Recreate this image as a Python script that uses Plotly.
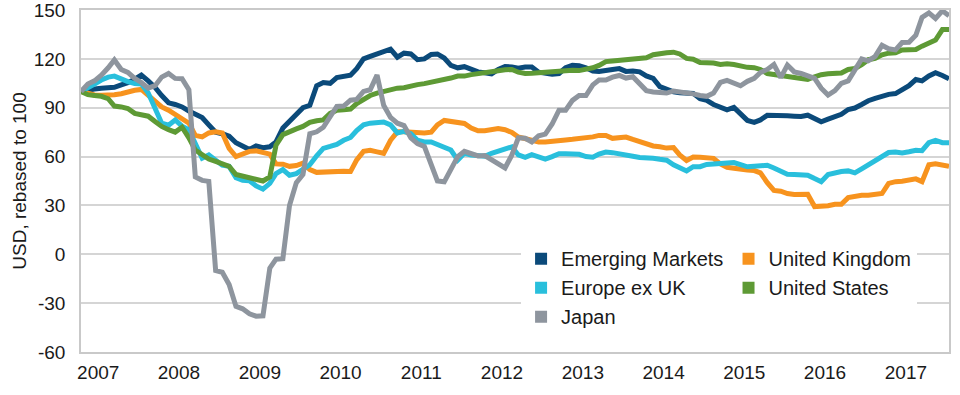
import pandas as pd
import plotly.graph_objects as go

# Monthly observations (rebased to 100 at start)
dates = pd.date_range("2006-10-01", periods=130, freq="MS") + pd.Timedelta(days=14)

years = [2007, 2008, 2009, 2010, 2011, 2012, 2013, 2014, 2015, 2016, 2017]
y_ticks = [-60, -30, 0, 30, 60, 90, 120, 150]
y_tick_text = ["-60", "-30", "0", "30", "60", "90", "120", "150"]

emerging_markets = [
    100, 101, 101.5, 102, 102.3, 102.5, 104, 105.3, 107.5, 110,
    106.5, 102.5, 97.5, 93, 92, 90.5, 88, 86, 84, 79.5,
    75, 74, 72.5, 68.5, 66.5, 64.3, 66.5, 65.5, 66, 69,
    77.5, 81.5, 86, 90, 91.5, 103.5, 105.5, 105, 108.5, 109.5,
    110, 114, 120, 121.5, 123, 124.5, 126, 121, 123.5, 123,
    119.5, 120, 122.7, 123, 120.5, 116, 114.5, 115.2, 113.5, 112,
    111.5, 110.8, 113.5, 115.3, 115, 114.2, 115, 115, 111.8, 111,
    110.5, 111, 114.5, 116, 115.8, 114.5, 112.5, 112.2, 112.5, 113.5,
    114, 112.3, 112.5, 112, 109.5, 108, 103, 101, 99.7, 99.2,
    98.8, 98.8, 95.5, 94.5, 92, 90.2, 88.7, 90.2, 86, 82.2,
    81, 82.5, 85.3, 85.4, 85.3, 85, 84.8, 84.6, 85.4, 83.5,
    81.4, 83, 84.5, 86, 88.9, 89.8, 92, 94.3, 95.7, 97,
    98.2, 98.7, 101, 103.5, 107.3, 106.5, 109.5, 111.5, 109.8, 107.8,
]

united_kingdom = [
    100, 98.5, 97.8, 97.7, 97.7, 98, 98.6, 100, 100.7, 101.2,
    97.7, 93.5, 90.5, 88.5, 86, 83.5, 80.5, 73, 72.1, 74.5,
    75.2, 74.5, 65, 60, 61.5, 63.2, 63.5, 62.3, 61.5, 55.5,
    55.3, 54, 54.5, 56, 52, 50.3, 50.6, 50.6, 50.7, 51,
    50.8, 58, 63.2, 63.8, 62.9, 62, 70, 75.2, 75.2, 75,
    74.4, 74.5, 75, 79.5, 82.2, 81.5, 80.3, 80.3, 77.5, 75.8,
    75.8, 76.5, 77.2, 76.5, 74.8, 72, 70.8, 69.8, 69, 69,
    69.2, 69.6, 70.2, 70.6, 71, 71.6, 72.1, 73, 73, 71.2,
    71.5, 72, 70.5, 69, 67.8, 66.5, 66, 65.2, 65.5, 61,
    57.6, 59.7, 59.6, 59.4, 58.9, 55.5, 53.4, 52.8, 52, 51.7,
    51.4, 50, 44, 39.2, 38.7, 37.3, 36.7, 37, 36.8, 29.3,
    29.5, 29.8, 30.7, 30.7, 34.8, 35.8, 36.2, 36.2, 37, 37.3,
    43.5, 44.6, 44.8, 45.2, 46.3, 44.6, 55, 55.6, 54.5, 54.1,
]

europe_ex_uk = [
    100, 102, 104.5, 107, 108.8, 109.4, 107.5, 106, 104.8, 104.6,
    99, 89, 80.5, 79.3, 82.5, 78.7, 76.5, 68, 59, 61,
    58, 54.7, 54, 47, 45.5, 45.2, 42, 40, 43.5, 49.5,
    52, 48.5, 49.5, 52, 55, 60.5, 65, 66.2, 67.5, 70,
    71.7, 76, 79.5, 80.5, 81, 81.2, 79.5, 74.5, 75.5, 74,
    70, 69, 69, 67.5, 66.3, 64, 57.8, 62, 61, 60.2,
    60.2, 62, 63.5, 64.7, 66, 61, 59.5, 61.2, 59.5, 58.5,
    60, 61.8, 61.8, 61.6, 61.4, 60, 59.6, 61.5, 62.8, 62.4,
    61.9, 61.2, 60.2, 59.4, 59.4, 58.9, 58.3, 57.8, 55, 53.2,
    51.2, 53.8, 53.8, 55.2, 55.5, 56, 56.7, 56.3, 55, 53.7,
    54, 54.3, 54.7, 53, 51, 49.2, 49, 49, 48.6, 46.5,
    44.6, 49, 50.2, 50.8, 51.2, 50, 52.5, 55, 57.2, 60,
    62.5, 62.8, 62.2, 63, 63.9, 63.6, 68.5, 70, 68.5, 68.5,
]

united_states = [
    100, 98, 97.5, 97, 95.5, 91, 90.5, 89.5, 86.5, 85.3,
    84.8, 81.5, 78.5, 76.5, 75, 78, 71.5, 64, 61, 58.5,
    57, 55.8, 54, 49, 48.2, 47.3, 46.5, 45, 47.5, 67,
    73.5, 75.5, 77, 78.5, 81, 82, 82.5, 86.5, 88.5, 88.7,
    89.2, 92.5, 95, 97.5, 99, 100, 101.5, 102, 102.3, 103.5,
    104.2, 104.8, 105.6, 106.4, 106.9, 108.2, 109.4, 109.4, 110.3, 111.1,
    111.8, 112.3, 112.7, 113.3, 113.5, 111.8, 111, 111.2, 111.5, 112.2,
    112.7, 112.7, 113, 113, 112.8, 113.5, 114.5, 116, 118.3, 118.7,
    119, 119.3, 120, 120.5, 120.7, 122.5, 123.5, 123.8, 124.1, 123,
    120.3, 119.8, 117.7, 117.6, 117.5, 116.6, 117, 116.5, 115.3, 114.8,
    114.6, 113.5, 111, 110.5, 110, 109.5, 109, 108, 107.4, 109,
    110.3, 110.8, 111, 111.3, 113.5, 114.1, 116.5, 119.5, 120.3, 122.5,
    123.5, 123.7, 125.4, 125.5, 125.8, 127.8, 129.5, 131.5, 138, 138,
]

japan = [
    100, 104.5, 106.5, 110, 114.5, 119.3, 113.5, 111.7, 108, 105.5,
    102, 103.5, 108.8, 111, 108, 107.8, 101, 47.5, 45.4, 44.8,
    -10, -11, -18.5, -32, -33.5, -36.5, -38, -37.8, -8.5, -3,
    -2.7, 30, 44, 49, 74, 75.2, 78, 85, 90.8, 91,
    94.6, 95.1, 100, 101, 110, 91.5, 84, 80.5, 79, 71.5,
    68, 66.2, 56, 45, 44.5, 52, 60, 63.2, 61.5, 60.4,
    60.6, 58, 55.5, 53, 61, 71.5, 71.2, 69, 72.8, 73.8,
    80, 88.5, 88.5, 94.5, 97.5, 97.5, 104, 107, 107, 108.8,
    109.8, 108.2, 109, 105, 100.5, 99.7, 99.2, 99, 100.3, 99.8,
    99.5, 98.5, 97.5, 97, 99, 105.5, 106.8, 105, 103.5, 106.2,
    108, 111.6, 113.5, 116.5, 108.5, 116.2, 112, 111, 109.3, 108,
    102, 97.8, 100.5, 105, 106.5, 113, 120, 118.8, 121.5, 128.3,
    126.2, 125.5, 130, 130.2, 134.5, 145.5, 148.2, 144.8, 149.5, 146.5,
]

series = [
    ("Emerging Markets", emerging_markets, "#0B4A7A", "legend"),
    ("United Kingdom", united_kingdom, "#F7931E", "legend2"),
    ("Europe ex UK", europe_ex_uk, "#29BFDC", "legend"),
    ("United States", united_states, "#5E9A35", "legend2"),
    ("Japan", japan, "#8E959E", "legend"),
]

FONT = "Liberation Sans, Arial, Helvetica, sans-serif"
fig = go.Figure()

for name, vals, color, _ in series:
    fig.add_trace(go.Scatter(
        x=dates, y=vals, mode="lines", name=name, showlegend=False,
        line=dict(color=color, width=5), hoverinfo="skip",
    ))

# legend entries with square swatches
legend_order = ["Emerging Markets", "Europe ex UK", "Japan", "United Kingdom", "United States"]
lookup = {s[0]: s for s in series}
for name in legend_order:
    _, _, color, leg = lookup[name]
    fig.add_trace(go.Scatter(
        x=[None], y=[None], mode="markers", name=name, legend=leg,
        legendgroup=name,
        marker=dict(symbol="square", size=11, color=color),
    ))

axis_line = "#C9C9C9"
fig.update_layout(
    width=960, height=395,
    margin=dict(l=81, r=11, t=10, b=43),
    paper_bgcolor="white", plot_bgcolor="white",
    font=dict(family=FONT, size=19, color="#1a1a1a"),
    legend=dict(
        x=0.507, y=0.33, xanchor="left", yanchor="top",
        bgcolor="white", font=dict(size=20, color="#1a1a1a"),
        tracegroupgap=0, itemsizing="constant",
    ),
    legend2=dict(
        x=0.746, y=0.33, xanchor="left", yanchor="top",
        bgcolor="white", font=dict(size=20, color="#1a1a1a"),
        tracegroupgap=0, itemsizing="constant",
    ),
    xaxis=dict(
        type="date",
        range=[dates[0], dates[-1]],
        tickvals=[pd.Timestamp(f"{y}-01-01") for y in years],
        ticktext=[str(y) for y in years],
        showgrid=False, zeroline=False, automargin=False,
        showline=True, linecolor=axis_line, linewidth=1.5, mirror=True,
        ticks="", ticklabelstandoff=2, ticklabeloverflow="allow",
        tickfont=dict(size=19),
    ),
    yaxis=dict(
        range=[-60, 150],
        tickvals=y_ticks, ticktext=y_tick_text,
        showgrid=True, gridcolor="#D5D5D5", gridwidth=1.5,
        zeroline=False, automargin=False,
        showline=True, linecolor=axis_line, linewidth=1.5, mirror=True,
        ticks="", ticklabelstandoff=10, ticklabeloverflow="allow",
        tickfont=dict(size=19),
        title=dict(text="USD, rebased to 100", font=dict(size=19), standoff=2),
    ),
)

fig.write_html(
    "out.html",
    config={"displayModeBar": False},
    post_script="document.body.style.margin='0px';",
)
